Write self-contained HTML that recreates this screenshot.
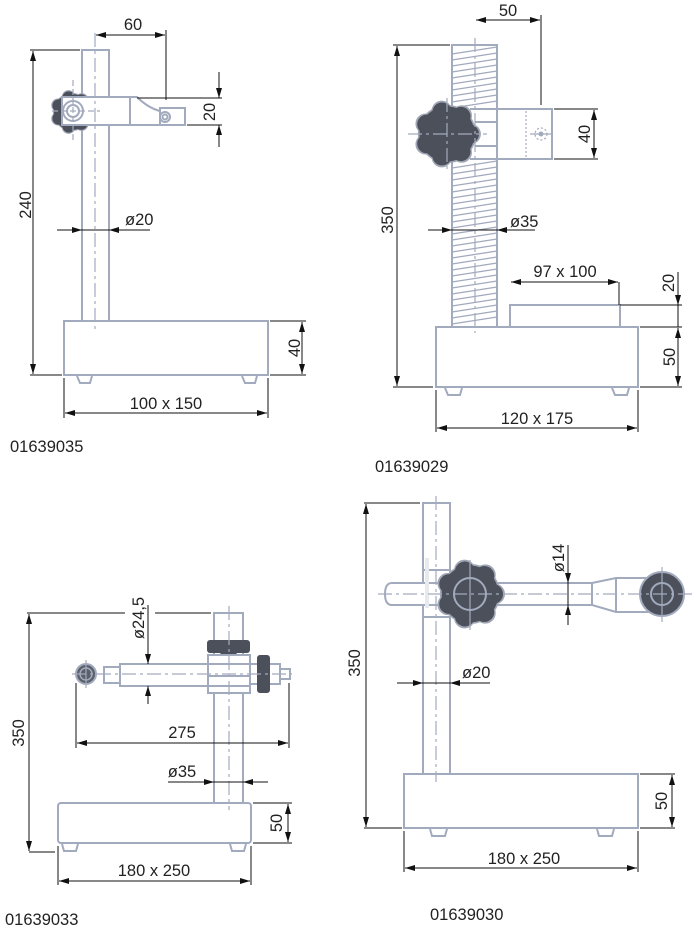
<!DOCTYPE html>
<html><head><meta charset="utf-8"><style>
html,body{margin:0;padding:0;background:#fff;}
svg{display:block;}
text{font-family:"Liberation Sans",Arial,sans-serif;font-size:16.5px;fill:#222;}
</style></head><body>
<svg width="700" height="936" viewBox="0 0 700 936" xmlns="http://www.w3.org/2000/svg">
<defs>
<marker id="a" viewBox="0 0 10 6" refX="10" refY="3" markerWidth="10" markerHeight="6" orient="auto-start-reverse" markerUnits="userSpaceOnUse"><path d="M0,0 L10,3 L0,6 z" fill="#111"/></marker>
<g id="kshape">
<circle cx="0" cy="0" r="0.86"/>
<circle cx="0.7" cy="0" r="0.3"/>
<circle cx="0.436" cy="0.547" r="0.3"/>
<circle cx="-0.156" cy="0.683" r="0.3"/>
<circle cx="-0.631" cy="0.304" r="0.3"/>
<circle cx="-0.631" cy="-0.304" r="0.3"/>
<circle cx="-0.156" cy="-0.683" r="0.3"/>
<circle cx="0.436" cy="-0.547" r="0.3"/>
</g>
<g id="knob">
<use href="#kshape" fill="#a0a6b4" transform="scale(1.06)"/>
<use href="#kshape" fill="#4b505b"/>
</g>
</defs>

<g fill="none" stroke="#a2aabd" stroke-width="2">
<!-- Drawing 1 -->
<rect x="82" y="50" width="27" height="271"/>
<rect x="64" y="321" width="204" height="54"/>
<path d="M77,376 l3,7 h10 l2,-7 M242,376 l3,7 h10 l2,-7"/>
</g>
<g transform="translate(72,112) scale(21)"><use href="#knob"/></g>
<g fill="#fff" stroke="#a2aabd" stroke-width="2">
<rect x="62" y="97" width="68" height="28"/>
<path d="M130,97 H137 Q150,110 165,112 V125 H130 Z"/>
<rect x="160" y="108" width="25" height="17"/>
<circle cx="73" cy="111" r="10"/><circle cx="73" cy="111" r="6"/>
<circle cx="165" cy="117" r="5"/><circle cx="165" cy="117" r="2.5"/>
</g>
<g stroke="#a2aabd" stroke-width="1.2" fill="none">
<line x1="95" y1="33" x2="95" y2="330" stroke-dasharray="14,4,3,4"/>
<line x1="52" y1="111" x2="100" y2="111" stroke-dasharray="6,3"/>
<line x1="73" y1="80" x2="73" y2="140" stroke-dasharray="6,3"/>
</g>

<!-- Drawing 2 -->
<g stroke="#a2aabd" stroke-width="1.3">
<line x1="452" y1="54" x2="497" y2="47"/><line x1="452" y1="60" x2="497" y2="53"/><line x1="452" y1="66" x2="497" y2="59"/><line x1="452" y1="72" x2="497" y2="65"/><line x1="452" y1="78" x2="497" y2="71"/><line x1="452" y1="84" x2="497" y2="77"/><line x1="452" y1="90" x2="497" y2="83"/><line x1="452" y1="96" x2="497" y2="89"/><line x1="452" y1="102" x2="497" y2="95"/><line x1="452" y1="108" x2="497" y2="101"/>
<line x1="452" y1="168" x2="497" y2="161"/><line x1="452" y1="174" x2="497" y2="167"/><line x1="452" y1="180" x2="497" y2="173"/><line x1="452" y1="186" x2="497" y2="179"/><line x1="452" y1="192" x2="497" y2="185"/><line x1="452" y1="198" x2="497" y2="191"/><line x1="452" y1="204" x2="497" y2="197"/><line x1="452" y1="210" x2="497" y2="203"/><line x1="452" y1="216" x2="497" y2="209"/><line x1="452" y1="222" x2="497" y2="215"/><line x1="452" y1="228" x2="497" y2="221"/><line x1="452" y1="234" x2="497" y2="227"/><line x1="452" y1="240" x2="497" y2="233"/><line x1="452" y1="246" x2="497" y2="239"/><line x1="452" y1="252" x2="497" y2="245"/><line x1="452" y1="258" x2="497" y2="251"/><line x1="452" y1="264" x2="497" y2="257"/><line x1="452" y1="270" x2="497" y2="263"/><line x1="452" y1="276" x2="497" y2="269"/><line x1="452" y1="282" x2="497" y2="275"/><line x1="452" y1="288" x2="497" y2="281"/><line x1="452" y1="294" x2="497" y2="287"/><line x1="452" y1="300" x2="497" y2="293"/><line x1="452" y1="306" x2="497" y2="299"/><line x1="452" y1="312" x2="497" y2="305"/><line x1="452" y1="318" x2="497" y2="311"/><line x1="452" y1="324" x2="497" y2="317"/>
</g>
<g fill="none" stroke="#a2aabd" stroke-width="2">
<rect x="452" y="45" width="45" height="282"/>
<rect x="436" y="327" width="202" height="60"/>
<rect x="510" y="305" width="110" height="22"/>
<path d="M445,388 l3,7 h12 l2,-7 M612,388 l3,7 h12 l2,-7"/>
<rect x="497" y="109" width="55" height="50" fill="#fff"/>
<path d="M470,109 H497 M470,159 H497 M475,122 H497 M475,146 H497"/>
</g>
<g transform="translate(447,134) scale(32)"><use href="#knob"/></g>
<g stroke="#a2aabd" stroke-width="1.2" fill="none">
<line x1="475" y1="38" x2="475" y2="333" stroke-dasharray="14,4,3,4"/>
<line x1="408" y1="134" x2="487" y2="134" stroke-dasharray="14,4,3,4"/>
<line x1="447" y1="98" x2="447" y2="172" stroke-dasharray="14,4,3,4"/>
<line x1="526" y1="111" x2="526" y2="157" stroke-dasharray="2,2"/>
<circle cx="541" cy="134" r="6" stroke-dasharray="2,2"/>
<line x1="530" y1="134" x2="553" y2="134"/>
</g>
<circle cx="541" cy="134" r="2.5" fill="#a2aabd"/>

<!-- Drawing 3 -->
<g fill="none" stroke="#a2aabd" stroke-width="2">
<rect x="214" y="613" width="29" height="190"/>
<rect x="58" y="803" width="193" height="40" rx="3"/>
<path d="M62,844 l2,7 h12 l2,-7 M230,844 l2,7 h12 l2,-7"/>
<rect x="104" y="667" width="16" height="16" fill="#fff"/>
<rect x="120" y="664" width="90" height="22" fill="#fff"/>
<rect x="250" y="664" width="30" height="20" fill="#fff"/>
<rect x="280" y="669" width="10" height="10" fill="#fff"/>
</g>
<rect x="257" y="655" width="13" height="38" rx="3" fill="#4b505b"/>
<rect x="207" y="640" width="43" height="13" rx="3" fill="#4b505b"/>
<path d="M220,652 h17 l-3,12 h-11 z" fill="#4b505b"/>
<g fill="#fff" stroke="#a2aabd" stroke-width="2">
<rect x="208" y="655" width="42" height="38"/>
<path d="M208,664 H250 M208,676 H250 M208,686 H250"/>
</g>
<circle cx="86" cy="674" r="10" fill="#5a5f6a" stroke="#a2aabd" stroke-width="2"/>
<circle cx="86" cy="674" r="6" fill="none" stroke="#a2aabd" stroke-width="1.5"/>
<g stroke="#a2aabd" stroke-width="1.2" fill="none">
<line x1="229" y1="606" x2="229" y2="810" stroke-dasharray="14,4,3,4"/>
<line x1="72" y1="674" x2="292" y2="674" stroke-dasharray="14,4,3,4"/>
<line x1="86" y1="660" x2="86" y2="688"/>
</g>

<!-- Drawing 4 -->
<g fill="none" stroke="#a2aabd" stroke-width="2">
<rect x="423" y="503" width="27" height="271"/>
<rect x="404" y="774" width="234" height="54"/>
<path d="M430,829 l2,7 h13 l2,-7 M597,829 l2,7 h13 l2,-7"/>
<path d="M423,570 H450 M423,617 H450"/>
<path d="M392,583 H592 V605 H392 Q385,605 385,594 Q385,583 392,583 Z" fill="#fff"/>
<path d="M592,583 L616,578 H650 V612 H616 L592,605 Z" fill="#fff"/>
<path d="M616,578 V612"/>
</g>
<rect x="425" y="558" width="4" height="50" fill="#e8e9ec"/>
<g transform="translate(470,594) scale(33)"><use href="#knob"/></g>
<circle cx="470" cy="594" r="16" fill="none" stroke="#a2aabd" stroke-width="2"/>
<circle cx="662" cy="594" r="22" fill="#4b505b" stroke="#a2aabd" stroke-width="2"/>
<circle cx="662" cy="594" r="11" fill="none" stroke="#a2aabd" stroke-width="2"/>
<g stroke="#a2aabd" stroke-width="1.2" fill="none">
<line x1="436" y1="496" x2="436" y2="782" stroke-dasharray="14,4,3,4"/>
<line x1="378" y1="594" x2="695" y2="594" stroke-dasharray="14,4,3,4"/>
<line x1="470" y1="560" x2="470" y2="630"/>
<line x1="662" y1="567" x2="662" y2="622"/>
</g>

<!-- Dimension lines -->
<g stroke="#111" stroke-width="1" fill="none">
<line x1="30" y1="50" x2="80" y2="50"/><line x1="30" y1="375" x2="62" y2="375"/>
<line x1="33" y1="51" x2="33" y2="374" marker-start="url(#a)" marker-end="url(#a)"/>
<line x1="166" y1="30" x2="166" y2="100"/>
<line x1="96" y1="35" x2="165" y2="35" marker-start="url(#a)" marker-end="url(#a)"/>
<line x1="137" y1="98" x2="222" y2="98"/><line x1="187" y1="125" x2="222" y2="125"/>
<line x1="219" y1="72" x2="219" y2="98" marker-end="url(#a)"/>
<line x1="219" y1="147" x2="219" y2="125" marker-end="url(#a)"/>
<line x1="57" y1="230" x2="82" y2="230" marker-end="url(#a)"/>
<line x1="150" y1="230" x2="109" y2="230" marker-end="url(#a)"/>
<line x1="82" y1="230" x2="109" y2="230"/>
<line x1="64" y1="378" x2="64" y2="418"/><line x1="268" y1="378" x2="268" y2="418"/>
<line x1="65" y1="413" x2="267" y2="413" marker-start="url(#a)" marker-end="url(#a)"/>
<line x1="270" y1="321" x2="306" y2="321"/><line x1="270" y1="375" x2="306" y2="375"/>
<line x1="302" y1="322" x2="302" y2="374" marker-start="url(#a)" marker-end="url(#a)"/>
<line x1="393" y1="45" x2="450" y2="45"/><line x1="393" y1="387" x2="433" y2="387"/>
<line x1="397" y1="46" x2="397" y2="386" marker-start="url(#a)" marker-end="url(#a)"/>
<line x1="541" y1="15" x2="541" y2="105"/>
<line x1="476" y1="20" x2="540" y2="20" marker-start="url(#a)" marker-end="url(#a)"/>
<line x1="554" y1="109" x2="598" y2="109"/><line x1="554" y1="159" x2="598" y2="159"/>
<line x1="594" y1="110" x2="594" y2="158" marker-start="url(#a)" marker-end="url(#a)"/>
<line x1="428" y1="230" x2="452" y2="230" marker-end="url(#a)"/>
<line x1="535" y1="230" x2="497" y2="230" marker-end="url(#a)"/>
<line x1="452" y1="230" x2="497" y2="230"/>
<line x1="511" y1="282" x2="618" y2="282" marker-start="url(#a)" marker-end="url(#a)"/>
<line x1="619" y1="282" x2="619" y2="305"/>
<line x1="620" y1="305" x2="682" y2="305"/><line x1="640" y1="327" x2="682" y2="327"/>
<line x1="678" y1="272" x2="678" y2="305" marker-end="url(#a)"/>
<line x1="678" y1="305" x2="678" y2="327"/>
<line x1="678" y1="328" x2="678" y2="386" marker-start="url(#a)" marker-end="url(#a)"/>
<line x1="640" y1="387" x2="682" y2="387"/>
<line x1="436" y1="390" x2="436" y2="432"/><line x1="638" y1="390" x2="638" y2="432"/>
<line x1="437" y1="428" x2="637" y2="428" marker-start="url(#a)" marker-end="url(#a)"/>
<line x1="27" y1="613" x2="125" y2="613"/><line x1="155" y1="613" x2="211" y2="613"/>
<line x1="29" y1="852" x2="55" y2="852"/>
<line x1="29" y1="614" x2="29" y2="851" marker-start="url(#a)" marker-end="url(#a)"/>
<line x1="148" y1="605" x2="148" y2="664" marker-end="url(#a)"/>
<line x1="148" y1="704" x2="148" y2="686" marker-end="url(#a)"/>
<line x1="76" y1="683" x2="76" y2="748"/><line x1="289" y1="683" x2="289" y2="748"/>
<line x1="77" y1="743" x2="288" y2="743" marker-start="url(#a)" marker-end="url(#a)"/>
<line x1="168" y1="782" x2="214" y2="782" marker-end="url(#a)"/>
<line x1="268" y1="782" x2="243" y2="782" marker-end="url(#a)"/>
<line x1="214" y1="782" x2="243" y2="782"/>
<line x1="253" y1="803" x2="292" y2="803"/><line x1="253" y1="843" x2="292" y2="843"/>
<line x1="288" y1="804" x2="288" y2="842" marker-start="url(#a)" marker-end="url(#a)"/>
<line x1="58" y1="846" x2="58" y2="885"/><line x1="251" y1="846" x2="251" y2="885"/>
<line x1="59" y1="881" x2="250" y2="881" marker-start="url(#a)" marker-end="url(#a)"/>
<line x1="364" y1="503" x2="420" y2="503"/><line x1="364" y1="828" x2="402" y2="828"/>
<line x1="366" y1="504" x2="366" y2="827" marker-start="url(#a)" marker-end="url(#a)"/>
<line x1="568" y1="545" x2="568" y2="583" marker-end="url(#a)"/>
<line x1="568" y1="625" x2="568" y2="605" marker-end="url(#a)"/>
<line x1="568" y1="583" x2="568" y2="605"/>
<line x1="397" y1="683" x2="423" y2="683" marker-end="url(#a)"/>
<line x1="490" y1="683" x2="450" y2="683" marker-end="url(#a)"/>
<line x1="423" y1="683" x2="450" y2="683"/>
<line x1="640" y1="774" x2="675" y2="774"/><line x1="640" y1="828" x2="675" y2="828"/>
<line x1="672" y1="775" x2="672" y2="827" marker-start="url(#a)" marker-end="url(#a)"/>
<line x1="404" y1="831" x2="404" y2="872"/><line x1="638" y1="831" x2="638" y2="872"/>
<line x1="405" y1="868" x2="637" y2="868" marker-start="url(#a)" marker-end="url(#a)"/>
</g>

<!-- Text -->
<text x="133" y="30" text-anchor="middle">60</text>
<text transform="translate(31,205) rotate(-90)" text-anchor="middle">240</text>
<text transform="translate(215,112) rotate(-90)" text-anchor="middle">20</text>
<text x="125" y="225">ø20</text>
<text x="166" y="409" text-anchor="middle">100 x 150</text>
<text transform="translate(300,348) rotate(-90)" text-anchor="middle">40</text>
<text x="10" y="452">01639035</text>

<text x="508" y="16" text-anchor="middle">50</text>
<text transform="translate(393,220) rotate(-90)" text-anchor="middle">350</text>
<text transform="translate(590,134) rotate(-90)" text-anchor="middle">40</text>
<text x="510" y="227">ø35</text>
<text x="565" y="277" text-anchor="middle">97 x 100</text>
<text transform="translate(674,283) rotate(-90)" text-anchor="middle">20</text>
<text transform="translate(675,357) rotate(-90)" text-anchor="middle">50</text>
<text x="537" y="424" text-anchor="middle">120 x 175</text>
<text x="375" y="472">01639029</text>

<text transform="translate(24,733) rotate(-90)" text-anchor="middle">350</text>
<text transform="translate(144,618) rotate(-90)" text-anchor="middle">ø24,5</text>
<text x="182" y="738" text-anchor="middle">275</text>
<text x="182" y="777" text-anchor="middle">ø35</text>
<text transform="translate(282,823) rotate(-90)" text-anchor="middle">50</text>
<text x="154" y="876" text-anchor="middle">180 x 250</text>
<text x="5" y="925">01639033</text>

<text transform="translate(360,663) rotate(-90)" text-anchor="middle">350</text>
<text transform="translate(564,558) rotate(-90)" text-anchor="middle">ø14</text>
<text x="462" y="678">ø20</text>
<text transform="translate(667,801) rotate(-90)" text-anchor="middle">50</text>
<text x="524" y="864" text-anchor="middle">180 x 250</text>
<text x="430" y="920">01639030</text>
</svg>
</body></html>
